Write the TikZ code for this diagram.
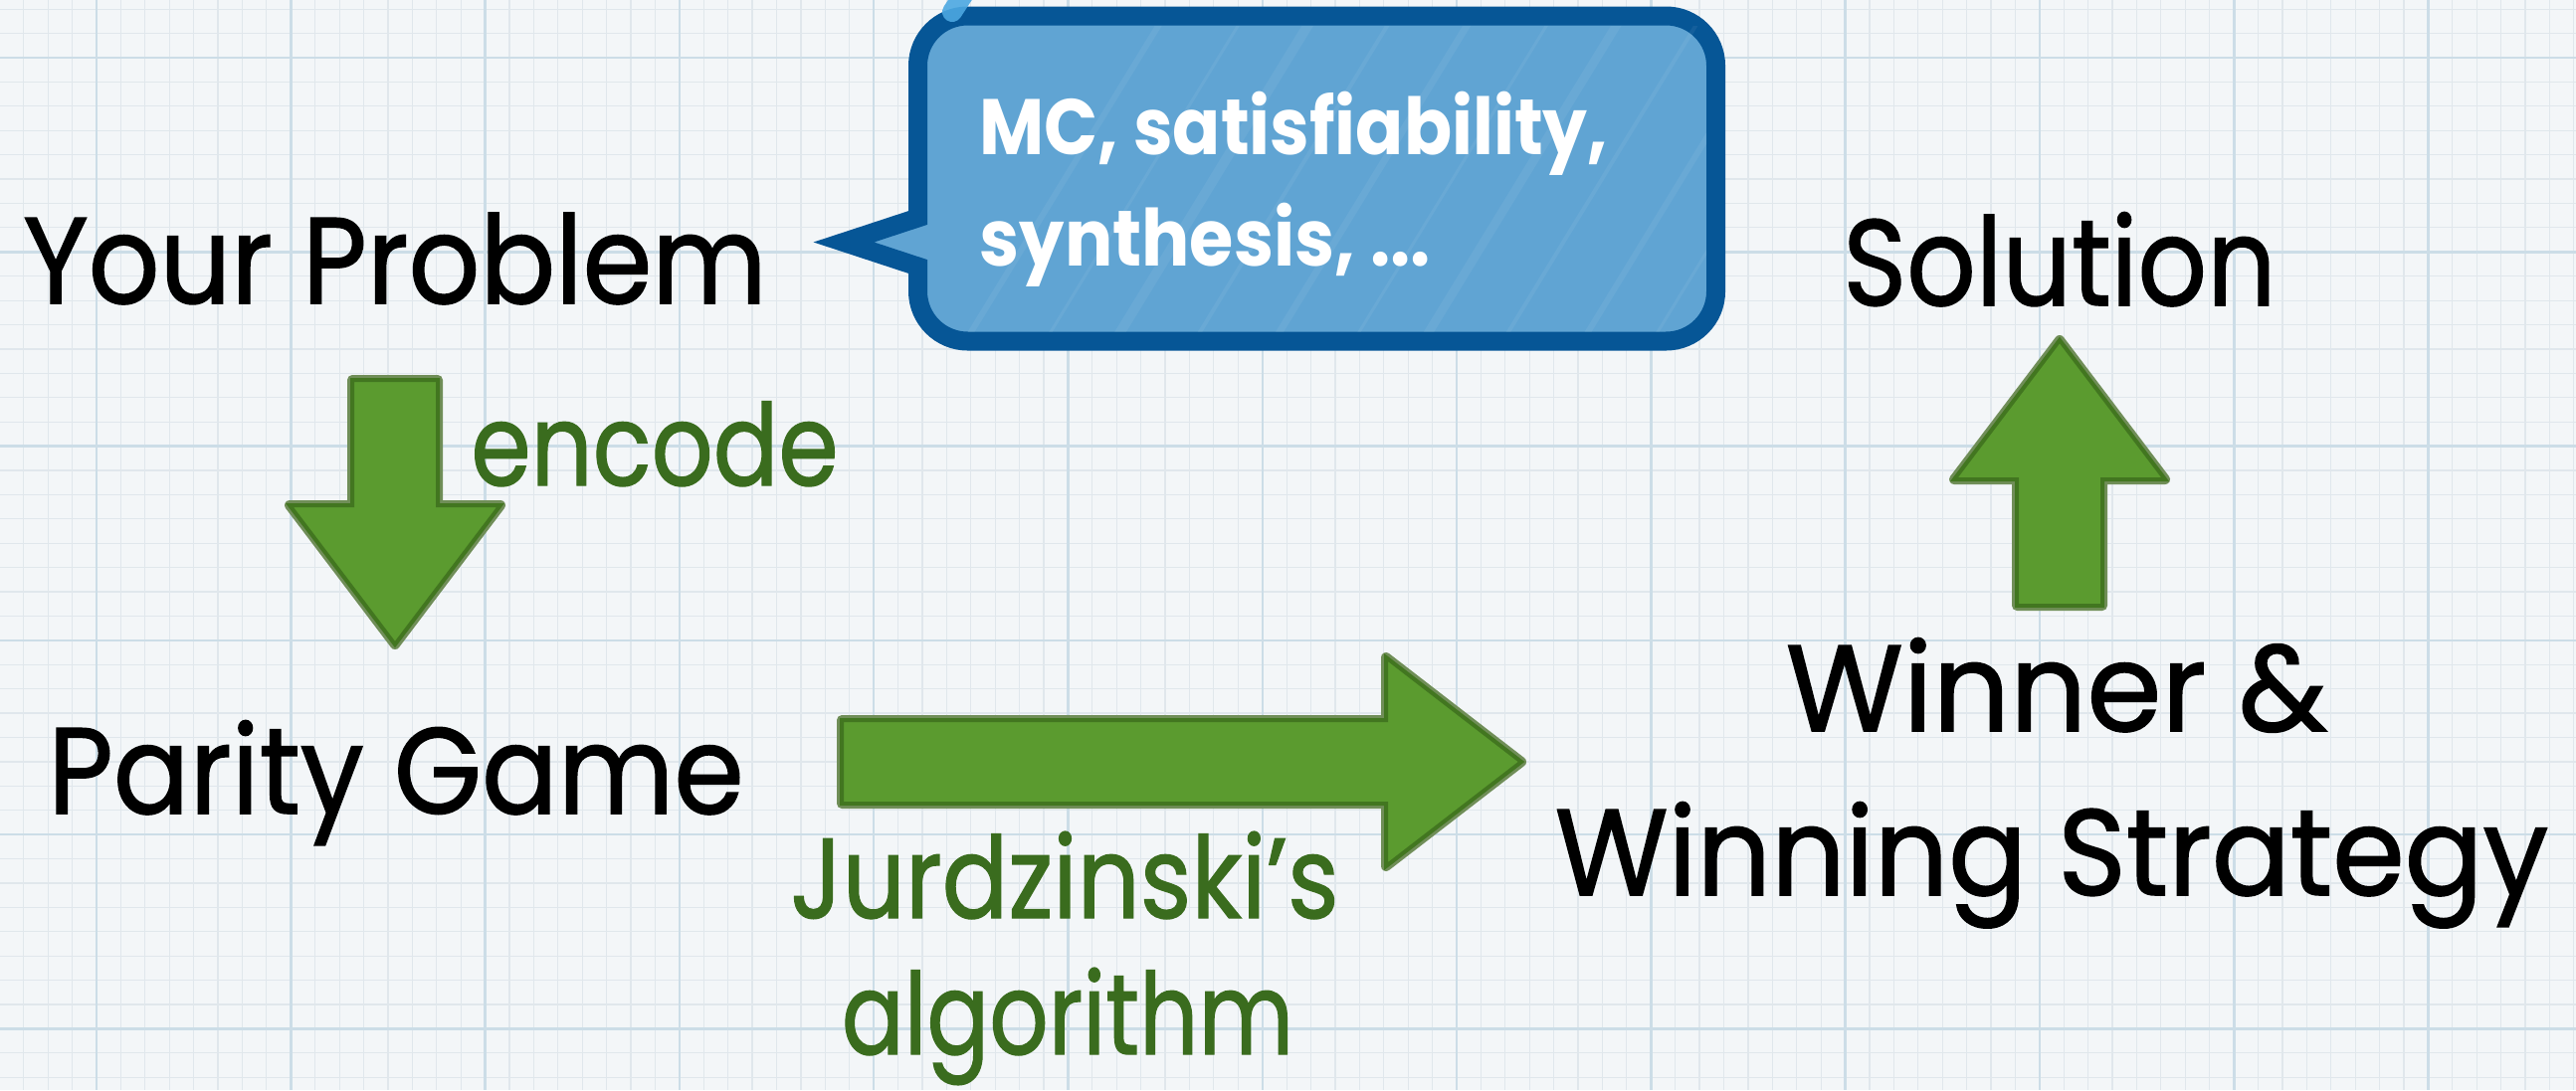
\documentclass[tikz,border=0pt]{standalone}
\usepackage{fontspec}
\usepackage{graphicx}
\setmainfont{Poppins}
\newfontfamily\handfont{Poppins}[FakeBold=1.2]
\usetikzlibrary{calc}

\definecolor{paper}{RGB}{243,246,248}
\definecolor{gridminor}{RGB}{224,231,236}
\definecolor{gridmajor}{RGB}{204,221,231}
\definecolor{arrowfill}{RGB}{91,155,47}
\definecolor{arrowline}{RGB}{66,118,32}
\definecolor{arrowhalo}{RGB}{112,142,88}
\definecolor{labelgreen}{RGB}{58,108,30}
\definecolor{bubblefill}{RGB}{96,164,211}
\definecolor{bubbleedge}{RGB}{6,86,150}
\definecolor{tabblue}{RGB}{76,168,225}

% set a label horizontally scaled to a given width
\newlength\fitlen
\newcommand\fitwidth[2]{\settowidth{\fitlen}{#2}%
  \pgfmathsetmacro\fitfac{#1/\fitlen}\scalebox{\fitfac}[1]{#2}}

\tikzset{
  lbl/.style={inner sep=0pt, anchor=base, text=black,
    font=\handfont\fontsize{35}{40}\selectfont},
  glbl/.style={lbl, text=labelgreen, font=\handfont\fontsize{32.5}{38}\selectfont},
  bubtext/.style={inner sep=0pt, anchor=base west, text=white,
    font=\fontsize{22.5}{26}\selectfont\bfseries},
  arrowhaloline/.style={draw=arrowhalo, line width=0.10cm, line join=round},
  arrowbody/.style={fill=arrowfill, draw=arrowline, line width=0.04cm, line join=miter},
  % block arrow along +x: length / shaft half width / head half width / head length
  pics/blockarrow/.style args={#1/#2/#3/#4}{code={
    \path[arrowhaloline] (0,-#2) -- (#1-#4,-#2) -- (#1-#4,-#3) -- (#1,0)
      -- (#1-#4,#3) -- (#1-#4,#2) -- (0,#2) -- cycle;
    \path[arrowbody] (0,-#2) -- (#1-#4,-#2) -- (#1-#4,-#3) -- (#1,0)
      -- (#1-#4,#3) -- (#1-#4,#2) -- (0,#2) -- cycle;
  }},
  bubble/.style={fill=bubblefill, draw=bubbleedge, line width=0.19cm,
    line join=miter, miter limit=10},
}

\begin{document}
\begin{tikzpicture}[x=0.01cm, y=-0.01cm]
\useasboundingbox (0,0) rectangle (2589,1096);

% graph paper
\fill[paper] (0,0) rectangle (2589,1096);
\foreach \k in {-3,...,102}
  \draw[gridminor, line width=0.012cm] ({97+\k*24.41},0) -- ({97+\k*24.41},1096);
\foreach \k in {-2,...,42}
  \draw[gridminor, line width=0.012cm] (0,{58+\k*24.41}) -- (2589,{58+\k*24.41});
\foreach \k in {0,...,13}
  \draw[gridmajor, line width=0.025cm] ({97+\k*195.3},0) -- ({97+\k*195.3},1096);
\foreach \k in {0,...,5}
  \draw[gridmajor, line width=0.025cm] (0,{58+\k*195.3}) -- (2589,{58+\k*195.3});

% labels
\node[lbl] (problem) at (397,305) {\fitwidth{7.47cm}{Your Problem}};
\node[lbl] (game) at (398,818) {\fitwidth{6.99cm}{Parity Game}};
\node[lbl] (solution) at (2070,307) {\fitwidth{4.35cm}{Solution}};
\node[lbl] (winner) at (2067,735) {\fitwidth{5.44cm}{Winner \&}};
\node[lbl] (strategy) at (2062,900) {\fitwidth{9.98cm}{Winning Strategy}};
\node[glbl] (encode) at (658,488) {\fitwidth{3.69cm}{encode}};
\node[glbl] (jurd) at (1070,923) {\fitwidth{5.51cm}{Jurdzinski’s}};
\node[glbl] (algo) at (1073,1060) {\fitwidth{4.54cm}{algorithm}};

% block arrows
\coordinate (encstart) at (397,382);
\coordinate (solvestart) at (846,766);
\coordinate (readstart) at (2070,609);
\pic[rotate=-90] at (encstart) {blockarrow={266/43/106/140}};
\pic at (solvestart) {blockarrow={683/42/105/136}};
\pic[rotate=90] at (readstart) {blockarrow={267/43/106/140}};

% speech bubble: rounded box with a pointed tail on its left side
\path[bubble] (922.5,268) [rounded corners=0.5cm] -- (922.5,343) -- (1724.5,343)
  -- (1724.5,16) -- (922.5,16) [sharp corners] -- (922.5,219) -- (848,243.5) -- cycle;
\begin{scope}
  \clip (932,26) rectangle (1715,333);
  \foreach \s/\w in {960/6,1040/3,1110/10,1190/4,1270/7,1350/3,1420/9,1500/4,1580/6,1650/3,1720/8,1800/4}
    \draw[white, opacity=0.06, line width={\w*0.01cm}] (\s,360) -- ({\s+220},0);
\end{scope}
\draw[tabblue, opacity=0.9, line width=0.2cm, line cap=round] (957,12) -- (970,-8);

\node[bubtext] (topics1) at (984,155) {\fitwidth{6.31cm}{MC, satisfiability,}};
\node[bubtext] (topics2) at (984,267) {\fitwidth{4.53cm}{synthesis, ...}};
\end{tikzpicture}
\end{document}
